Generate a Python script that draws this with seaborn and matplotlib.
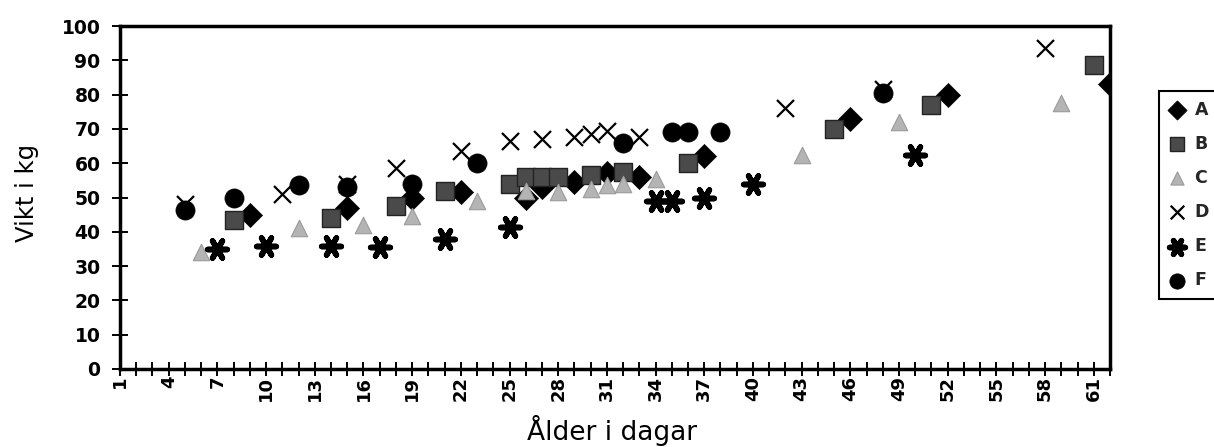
import matplotlib
matplotlib.use("Agg")
import matplotlib.pyplot as plt
import seaborn as sns
import pandas as pd

# ---- data ----
categories = list(range(1, 63))          # category axis: age in days
x_tick_labels = ["1", "4", "7", "10", "13", "16", "19", "22", "25", "28", "31",
                 "34", "37", "40", "43", "46", "49", "52", "55", "58", "61"]
y_ticks = [0, 10, 20, 30, 40, 50, 60, 70, 80, 90, 100]
series_names = ["A", "B", "C", "D", "E", "F"]

A_days = [9, 15, 19, 22, 26, 27, 29, 31, 33, 37, 46, 52, 62]
A_kg = [45, 47, 50, 51.5, 50, 53, 54.5, 57, 56, 62, 73, 80, 83]

B_days = [8, 14, 18, 21, 25, 26, 27, 28, 30, 32, 36, 45, 51, 61]
B_kg = [43.5, 44, 47.5, 52, 54, 56, 56, 56, 56.5, 57.5, 60, 70, 77, 88.5]

C_days = [6, 12, 16, 19, 23, 26, 28, 30, 31, 32, 34, 43, 49, 59]
C_kg = [34, 41, 42, 44.5, 49, 52, 51.5, 52.5, 53.5, 54, 55.5, 62.5, 72, 77.5]

D_days = [5, 11, 15, 18, 22, 25, 27, 29, 30, 31, 33, 42, 48, 58]
D_kg = [48, 51, 54, 58.5, 63.5, 66.5, 67, 67.5, 68.5, 69.5, 67.5, 76, 81.5, 93.5]

E_days = [7, 10, 14, 17, 21, 25, 34, 35, 37, 40, 50]
E_kg = [35, 36, 36, 35.5, 38, 41.5, 49, 49, 50, 54, 62.5]

F_days = [5, 8, 12, 15, 19, 23, 32, 35, 36, 38, 48]
F_kg = [46.5, 50, 53.5, 53, 54, 60, 66, 69, 69, 69, 80.5]

series_days = [A_days, B_days, C_days, D_days, E_days, F_days]
series_kg = [A_kg, B_kg, C_kg, D_kg, E_kg, F_kg]

# ---- style ----
sns.set_theme(style="white")
plt.rcParams["font.family"] = ["DejaVu Sans"]

styles = {
    "A": dict(marker="D", s=150, color="black", edgecolor="black", linewidth=0.5),
    "B": dict(marker="s", s=150, color="#4a4a4a", edgecolor="#222222", linewidth=1.0),
    "C": dict(marker="^", s=140, color="#b4b4b4", edgecolor="#9a9a9a", linewidth=0.8),
    "D": dict(marker="x", s=150, color="black", linewidth=1.6),
    "E": dict(marker=(6, 2, 30), s=200, color="black", linewidth=4.0),
    "F": dict(marker="o", s=190, color="black", edgecolor="black", linewidth=0.5),
}

W, H = 1214, 447
fig = plt.figure(figsize=(W / 100, H / 100), dpi=100)
x0, x1, ytop, ybot = 120, 1110, 26, 369
ax = fig.add_axes([x0 / W, 1 - ybot / H, (x1 - x0) / W, (ybot - ytop) / H])

for name, days, kg in zip(series_names, series_days, series_kg):
    df = pd.DataFrame({"Ålder": days, "Vikt": kg})
    sns.scatterplot(data=df, x="Ålder", y="Vikt", ax=ax, label=name,
                    legend=True, zorder=3, **styles[name])

ax.set_xlim(categories[0], categories[-1])
ax.set_ylim(y_ticks[0], y_ticks[-1])
ax.set_xticks(categories)
lab_map = {int(t): t for t in x_tick_labels}
ax.set_xticklabels([lab_map.get(c, "") for c in categories], rotation=90,
                   fontsize=13, fontweight="bold")
ax.set_yticks(y_ticks)
ax.set_yticklabels([str(v) for v in y_ticks], fontsize=13.5, fontweight="bold")

ax.tick_params(axis="x", direction="inout", length=9.5, width=1.4, pad=0,
               colors="black", bottom=True)
ax.tick_params(axis="y", direction="inout", length=12, width=1.4, pad=8,
               colors="black", left=True)

for sp in ax.spines.values():
    sp.set_visible(True)
    sp.set_color("black")
    sp.set_linewidth(2.5)
ax.grid(False)

ax.set_xlabel("Ålder i dagar", fontsize=19, color="black", va="top")
ax.xaxis.set_label_coords(0.497, -0.135)
ax.set_ylabel("Vikt i kg", fontsize=17.5, color="black")
ax.yaxis.set_label_coords(-0.082, 0.513)

handles, labels = ax.get_legend_handles_labels()
leg = ax.legend(handles, labels, loc="upper left",
                bbox_to_anchor=(1159 / W, 1 - 91 / H),
                bbox_transform=fig.transFigure, frameon=True, fancybox=False,
                edgecolor="black", framealpha=1, markerscale=0.8,
                prop={"weight": "bold", "size": 12.5},
                handlelength=1.0, handletextpad=0.5, labelspacing=0.93,
                borderpad=0.55, borderaxespad=0)
leg.get_frame().set_linewidth(1.5)

fig.savefig("out.png", dpi=100)
